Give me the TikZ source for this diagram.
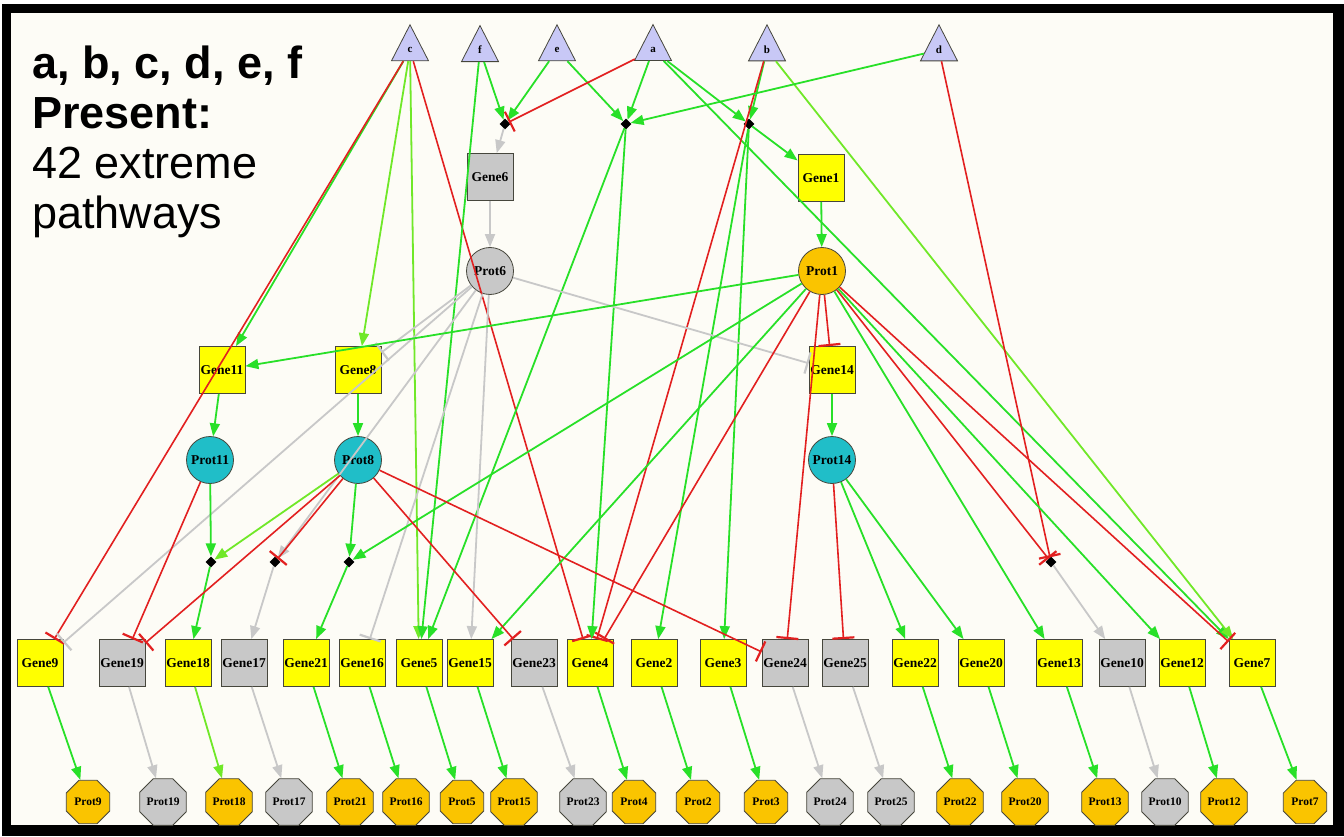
\documentclass[tikz,border=0pt]{standalone}
\usepackage{fontspec}
\setmainfont{Liberation Serif}
\newfontfamily\headfont{Liberation Sans}
\usetikzlibrary{arrows.meta, shapes.geometric}

\definecolor{paper}{RGB}{253,252,246}
\definecolor{nodeline}{RGB}{70,70,60}
\definecolor{inputblue}{RGB}{200,200,246}
\definecolor{geneon}{RGB}{255,255,0}
\definecolor{geneoff}{RGB}{200,200,200}
\definecolor{protorange}{RGB}{250,196,0}
\definecolor{protcyan}{RGB}{32,190,200}
\definecolor{actgreen}{RGB}{40,224,40}
\definecolor{actlime}{RGB}{112,232,40}
\definecolor{inhred}{RGB}{226,32,32}
\definecolor{offgray}{RGB}{200,200,200}

\newcommand\genefont{\bfseries\fontsize{13.5}{13.5}\selectfont}
\newcommand\octfont{\bfseries\fontsize{11.5}{11.5}\selectfont}

\tikzset{
	inputtri/.style={isosceles triangle, shape border rotate=90, isosceles triangle stretches, minimum width=37pt, minimum height=36pt, inner sep=0pt, draw=nodeline, line width=0.8pt, fill=inputblue, font=\bfseries\fontsize{11}{11}\selectfont},
	genebox/.style={draw=nodeline, line width=0.8pt, minimum width=46pt, minimum height=47pt, inner sep=0pt, font=\genefont, fill=#1},
	protcirc/.style={circle, draw=nodeline, line width=0.8pt, minimum size=47pt, inner sep=0pt, font=\genefont, fill=#1},
	protoct/.style={regular polygon, regular polygon sides=8, draw=nodeline, line width=0.8pt, minimum size=47pt, inner sep=0pt, font=\octfont, fill=#1},
	joint/.style={diamond, fill=black, minimum size=11pt, inner sep=0pt},
	actarr/.style={draw=actgreen, line width=1.8pt, -{Triangle[length=13pt,width=10pt]}},
	limearr/.style={draw=actlime, line width=1.8pt, -{Triangle[length=13pt,width=10pt]}},
	inharr/.style={draw=inhred, line width=1.6pt, -{Bar[width=22pt,line width=2.2pt]}},
	offarr/.style={draw=offgray, line width=1.8pt, -{Triangle[length=13pt,width=10pt]}},
	offinh/.style={draw=offgray, line width=1.8pt, -{Bar[width=22pt,line width=2.2pt]}},
}

\begin{document}
\begin{tikzpicture}[x=1pt, y=-1pt]
	\useasboundingbox (0,0) rectangle (1344,837);
	% frame and paper
	\fill[white] (0,0) rectangle (1344,837);
	\fill[black] (2,4) rectangle (1344,836);
	\fill[paper] (11,13) rectangle (1333,825);

	\node[anchor=north west, inner sep=0pt, align=left, font=\headfont\fontsize{45}{50}\selectfont] (title) at (32,46)
		{{\bfseries a, b, c, d, e, f}\\{\bfseries Present:}\\42 extreme\\pathways};

	% inputs
	\node[inputtri] (inc) at (410,50) {c};
	\node[inputtri] (inf) at (480,50) {f};
	\node[inputtri] (ine) at (557,50) {e};
	\node[inputtri] (ina) at (653,50) {a};
	\node[inputtri] (inb) at (767,50) {b};
	\node[inputtri] (ind) at (939,50) {d};

	% joints
	\node[joint] (j1) at (505,124) {};
	\node[joint] (j2) at (626,124) {};
	\node[joint] (j3) at (749,124) {};
	\node[joint] (j4) at (211,562) {};
	\node[joint] (j5) at (275,562) {};
	\node[joint] (j6) at (349,562) {};
	\node[joint] (j7) at (1051,562) {};

	% upper genes and proteins
	\node[genebox=geneoff] (gene6) at (490,177) {Gene6};
	\node[genebox=geneon] (gene1) at (821,178) {Gene1};
	\node[protcirc=geneoff] (prot6) at (490,271) {Prot6};
	\node[protcirc=protorange] (prot1) at (822,271) {Prot1};
	\node[genebox=geneon] (gene11) at (222,370) {Gene11};
	\node[genebox=geneon] (gene8) at (358,370) {Gene8};
	\node[genebox=geneon] (gene14) at (832,370) {Gene14};
	\node[protcirc=protcyan] (prot11) at (210,460) {Prot11};
	\node[protcirc=protcyan] (prot8) at (358,460) {Prot8};
	\node[protcirc=protcyan] (prot14) at (832,460) {Prot14};

	% bottom genes
	\node[genebox=geneon] (gene9) at (40,663) {Gene9};
	\node[genebox=geneoff] (gene19) at (122,663) {Gene19};
	\node[genebox=geneon] (gene18) at (188,663) {Gene18};
	\node[genebox=geneoff] (gene17) at (244,663) {Gene17};
	\node[genebox=geneon] (gene21) at (306,663) {Gene21};
	\node[genebox=geneon] (gene16) at (362,663) {Gene16};
	\node[genebox=geneon] (gene5) at (419,663) {Gene5};
	\node[genebox=geneon] (gene15) at (470,663) {Gene15};
	\node[genebox=geneoff] (gene23) at (534,663) {Gene23};
	\node[genebox=geneon] (gene4) at (590,663) {Gene4};
	\node[genebox=geneon] (gene2) at (654,663) {Gene2};
	\node[genebox=geneon] (gene3) at (723,663) {Gene3};
	\node[genebox=geneoff] (gene24) at (785,663) {Gene24};
	\node[genebox=geneoff] (gene25) at (845,663) {Gene25};
	\node[genebox=geneon] (gene22) at (915,663) {Gene22};
	\node[genebox=geneon] (gene20) at (981,663) {Gene20};
	\node[genebox=geneon] (gene13) at (1059,663) {Gene13};
	\node[genebox=geneoff] (gene10) at (1122,663) {Gene10};
	\node[genebox=geneon] (gene12) at (1182,663) {Gene12};
	\node[genebox=geneon] (gene7) at (1252,663) {Gene7};

	% bottom proteins
	\node[protoct=protorange] (prot9) at (88,802) {Prot9};
	\node[protoct=geneoff] (prot19) at (163,802) {Prot19};
	\node[protoct=protorange] (prot18) at (229,802) {Prot18};
	\node[protoct=geneoff] (prot17) at (289,802) {Prot17};
	\node[protoct=protorange] (prot21) at (350,802) {Prot21};
	\node[protoct=protorange] (prot16) at (406,802) {Prot16};
	\node[protoct=protorange] (prot5) at (462,802) {Prot5};
	\node[protoct=protorange] (prot15) at (514,802) {Prot15};
	\node[protoct=geneoff] (prot23) at (583,802) {Prot23};
	\node[protoct=protorange] (prot4) at (634,802) {Prot4};
	\node[protoct=protorange] (prot2) at (698,802) {Prot2};
	\node[protoct=protorange] (prot3) at (766,802) {Prot3};
	\node[protoct=geneoff] (prot24) at (830,802) {Prot24};
	\node[protoct=geneoff] (prot25) at (891,802) {Prot25};
	\node[protoct=protorange] (prot22) at (960,802) {Prot22};
	\node[protoct=protorange] (prot20) at (1025,802) {Prot20};
	\node[protoct=protorange] (prot13) at (1105,802) {Prot13};
	\node[protoct=geneoff] (prot10) at (1165,802) {Prot10};
	\node[protoct=protorange] (prot12) at (1224,802) {Prot12};
	\node[protoct=protorange] (prot7) at (1305,802) {Prot7};

	% inputs -> targets
	\draw[actarr] (inc) -- (gene11);
	\draw[inharr] (inc) -- (gene9);
	\draw[limearr] (inc) -- (gene8);
	\draw[limearr] (inc) -- (gene5);
	\draw[inharr] (inc) -- (gene4);
	\draw[actarr] (inf) -- (j1);
	\draw[actarr] (inf) -- (gene5);
	\draw[actarr] (ine) -- (j1);
	\draw[actarr] (ine) -- (j2);
	\draw[inharr] (ina) -- (j1);
	\draw[actarr] (ina) -- (j2);
	\draw[actarr] (ina) -- (j3);
	\draw[actarr] (ina) -- (gene7);
	\draw[actarr] (inb) -- (j3);
	\draw[inharr] (inb) -- (gene4);
	\draw[limearr] (inb) -- (gene7);
	\draw[actarr] (ind) -- (j2);
	\draw[inharr] (ind) -- (j7);

	% joints -> genes
	\draw[offarr] (j1) -- (gene6);
	\draw[actarr] (j2) -- (gene4);
	\draw[actarr] (j2) -- (gene5);
	\draw[actarr] (j3) -- (gene1);
	\draw[actarr] (j3) -- (gene2);
	\draw[actarr] (j3) -- (gene3);
	\draw[actarr] (j4) -- (gene18);
	\draw[offarr] (j5) -- (gene17);
	\draw[actarr] (j6) -- (gene21);
	\draw[offarr] (j7) -- (gene10);

	% gene -> protein, upper part
	\draw[offarr] (gene6) -- (prot6);
	\draw[actarr] (gene1) -- (prot1);
	\draw[actarr] (gene11) -- (prot11);
	\draw[actarr] (gene8) -- (prot8);
	\draw[actarr] (gene14) -- (prot14);

	% Prot6
	\draw[offinh] (prot6) -- (gene8);
	\draw[offinh] (prot6) -- (gene14);
	\draw[offinh] (prot6) -- (gene9);
	\draw[offarr] (prot6) -- (j5);
	\draw[offinh] (prot6) -- (gene16);
	\draw[offarr] (prot6) -- (gene15);

	% Prot1
	\draw[actarr] (prot1) -- (gene11);
	\draw[inharr] (prot1) -- (gene14);
	\draw[actarr] (prot1) -- (j6);
	\draw[actarr] (prot1) -- (gene15);
	\draw[inharr] (prot1) -- (gene4);
	\draw[inharr] (prot1) -- (gene24);
	\draw[actarr] (prot1) -- (gene13);
	\draw[inharr] (prot1) -- (j7);
	\draw[actarr] (prot1) -- (gene12);
	\draw[inharr] (prot1) -- (gene7);

	% Prot11, Prot8, Prot14
	\draw[actarr] (prot11) -- (j4);
	\draw[inharr] (prot11) -- (gene19);
	\draw[limearr] (prot8) -- (j4);
	\draw[inharr] (prot8) -- (gene19);
	\draw[inharr] (prot8) -- (j5);
	\draw[actarr] (prot8) -- (j6);
	\draw[inharr] (prot8) -- (gene23);
	\draw[inharr] (prot8) -- (gene24);
	\draw[inharr] (prot14) -- (gene25);
	\draw[actarr] (prot14) -- (gene22);
	\draw[actarr] (prot14) -- (gene20);

	% gene -> protein, bottom row
	\draw[actarr] (gene9) -- (prot9);
	\draw[offarr] (gene19) -- (prot19);
	\draw[limearr] (gene18) -- (prot18);
	\draw[offarr] (gene17) -- (prot17);
	\draw[actarr] (gene21) -- (prot21);
	\draw[actarr] (gene16) -- (prot16);
	\draw[actarr] (gene5) -- (prot5);
	\draw[actarr] (gene15) -- (prot15);
	\draw[offarr] (gene23) -- (prot23);
	\draw[actarr] (gene4) -- (prot4);
	\draw[actarr] (gene2) -- (prot2);
	\draw[actarr] (gene3) -- (prot3);
	\draw[offarr] (gene24) -- (prot24);
	\draw[offarr] (gene25) -- (prot25);
	\draw[actarr] (gene22) -- (prot22);
	\draw[actarr] (gene20) -- (prot20);
	\draw[actarr] (gene13) -- (prot13);
	\draw[offarr] (gene10) -- (prot10);
	\draw[actarr] (gene12) -- (prot12);
	\draw[actarr] (gene7) -- (prot7);
\end{tikzpicture}
\end{document}
